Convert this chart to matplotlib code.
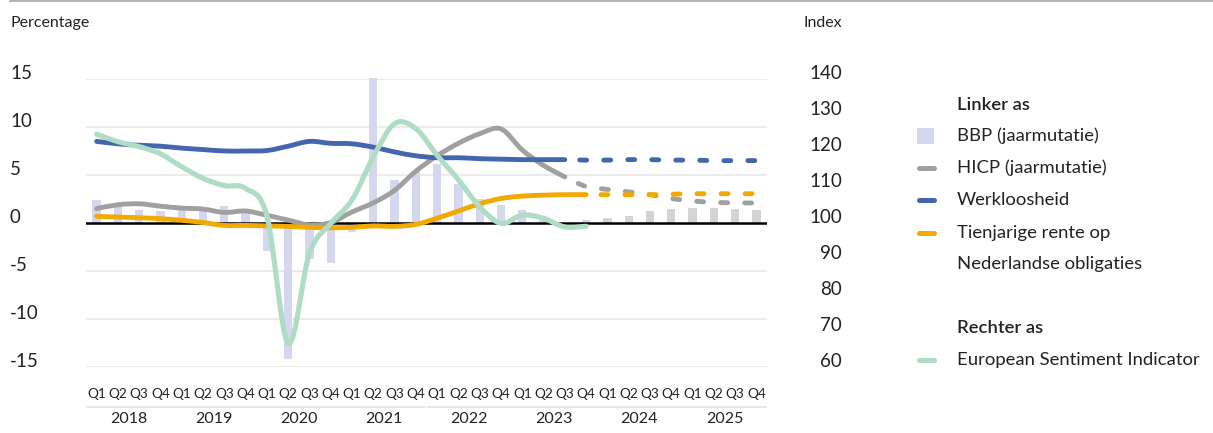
import matplotlib
matplotlib.use('Agg')
import matplotlib.pyplot as plt
from matplotlib.path import Path
from matplotlib.patches import PathPatch, Rectangle
from matplotlib.lines import Line2D
from matplotlib.transforms import blended_transform_factory
import numpy as np

# quarters 2018Q1 .. 2025Q4
quarters = ['Q1', 'Q2', 'Q3', 'Q4'] * 8
years = ['2018', '2019', '2020', '2021', '2022', '2023', '2024', '2025']

# BBP (jaarmutatie), bars; from 2024 grey (forecast)
bbp = [2.4, 2.0, 1.4, 1.2, 1.8, 1.6, 1.8, 1.3,
       -2.9, -14.2, -3.8, -4.2, -0.9, 15.1, 4.5, 5.3,
       6.1, 4.1, 2.5, 1.9, 1.35, 0.65, -0.2, 0.3,
       0.5, 0.7, 1.25, 1.45, 1.55, 1.55, 1.45, 1.35]
bbp_forecast_from = 24

# HICP (jaarmutatie)
hicp = [1.5, 1.9, 2.0, 1.75, 1.55, 1.45, 1.1, 1.25,
        0.8, 0.3, -0.2, 0.05, 1.15, 2.1, 3.4, 5.4,
        7.0, 8.3, 9.3, 9.8, 7.6, 6.0, 4.8]
hicp_fc = [4.8, 3.8, 3.5, 3.25, 2.95, 2.55, 2.3, 2.15, 2.1, 2.08]

# Werkloosheid
werkl = [8.5, 8.25, 8.1, 8.0, 7.8, 7.65, 7.5, 7.5,
         7.55, 8.0, 8.5, 8.3, 8.25, 7.9, 7.4, 7.0,
         6.8, 6.8, 6.7, 6.65, 6.6, 6.6, 6.6]
werkl_fc = [6.6, 6.55, 6.55, 6.6, 6.6, 6.55, 6.55, 6.5, 6.5, 6.5]

# Tienjarige rente op Nederlandse obligaties
rente = [0.7, 0.62, 0.55, 0.45, 0.28, 0.05, -0.25, -0.25,
         -0.3, -0.35, -0.45, -0.5, -0.45, -0.3, -0.35, -0.15,
         0.5, 1.25, 2.0, 2.55, 2.8, 2.9, 2.95, 2.95]
rente_fc = [2.95, 2.95, 2.95, 2.95, 3.0, 3.05, 3.05, 3.05, 3.05]

# European Sentiment Indicator (rechter as)
esi = [124.7, 122.6, 121.2, 119.2, 115.6, 112.4, 110.4, 109.6,
       102.0, 66.6, 91.6, 99.9, 106.4, 118.4, 127.6, 126.2,
       118.8, 112.0, 104.5, 99.9, 102.2, 101.3, 98.9, 99.1]

left_ticks = [15, 10, 5, 0, -5, -10, -15]
right_ticks = [140, 130, 120, 110, 100, 90, 80, 70, 60]

c_bar = '#d5d7ee'
c_bar_fc = '#d4d4d4'
c_hicp = '#a0a0a0'
c_werkl = '#4466af'
c_rente = '#f2a900'
c_esi = '#afdcc4'

plt.rcParams['font.family'] = ['Lato', 'DejaVu Sans']
plt.rcParams['lines.scale_dashes'] = False
txt = '#222222'


def smooth_path(xs, ys):
    # smoothed line through the points (Catmull-Rom style bezier, like Excel)
    pts = np.column_stack([xs, ys]).astype(float)
    n = len(pts)
    verts = [pts[0]]
    codes = [Path.MOVETO]
    for k in range(n - 1):
        p0 = pts[max(k - 1, 0)]
        p1 = pts[k]
        p2 = pts[k + 1]
        p3 = pts[min(k + 2, n - 1)]
        verts += [p1 + (p2 - p0) / 6, p2 - (p3 - p1) / 6, p2]
        codes += [Path.CURVE4] * 3
    return Path(verts, codes)


def add_line(axis, start, values, color, dashed=False, lw=3.5):
    xs = np.arange(start, start + len(values))
    ls = (6.6, (5.0, 12.3)) if dashed else '-'
    patch = PathPatch(smooth_path(xs, values), fill=False, edgecolor=color,
                      lw=lw, linestyle=ls, capstyle='round',
                      joinstyle='round', zorder=4, clip_on=False)
    axis.add_patch(patch)


W, H = 1213, 433
fig = plt.figure(figsize=(W / 100, H / 100), dpi=100)
ax = fig.add_axes([86 / W, 1 - 367 / H, (767 - 86) / W, 288 / H])
ax.set_xlim(-0.5, 31.5)
ax.set_ylim(-15, 15)
ax.axis('off')

for v in left_ticks:
    if v != 0:
        ax.axhline(v, color='#e8e8e8', lw=1.2, zorder=0)

x = np.arange(len(bbp))
bar_colors = [c_bar if i < bbp_forecast_from else c_bar_fc for i in x]
ax.bar(x, bbp, width=0.39, color=bar_colors, zorder=1, clip_on=False)
ax.axhline(0, color='black', lw=1.8, zorder=2)

add_line(ax, 0, hicp, c_hicp)
add_line(ax, len(hicp) - 1, hicp_fc, c_hicp, dashed=True)
add_line(ax, 0, rente, c_rente)
add_line(ax, len(rente) - 1, rente_fc, c_rente, dashed=True)
add_line(ax, 0, werkl, c_werkl)
add_line(ax, len(werkl) - 1, werkl_fc, c_werkl, dashed=True)

ax2 = ax.twinx()
ax2.set_ylim(60, 140)
ax2.axis('off')
add_line(ax2, 0, esi, c_esi, lw=3.7)

# tick labels (sitting on their gridline)
tl = blended_transform_factory(fig.transFigure, ax.transData)
for v in left_ticks:
    ax.text(10 / W, v, str(v), transform=tl, ha='left', va='baseline',
            fontsize=13.5, color=txt)
tr = blended_transform_factory(fig.transFigure, ax2.transData)
for v in right_ticks:
    ax2.text(842 / W, v, str(v), transform=tr, ha='right', va='baseline',
             fontsize=13.5, color=txt)

fig.text(10 / W, 1 - 23 / H, 'Percentage', ha='left', va='center',
         fontsize=11.5, color=txt)
fig.text(842 / W, 1 - 23 / H, 'Index', ha='right', va='center',
         fontsize=11.5, color=txt)

# category axis: quarters, separator lines, years
tx = blended_transform_factory(ax.transData, fig.transFigure)
for i, q in enumerate(quarters):
    ax.text(i, 1 - 394 / H, q, transform=tx, ha='center', va='center',
            fontsize=9.8, color=txt)
for k, yr in enumerate(years):
    ax.text(4 * k + 1.5, 1 - 419 / H, yr, transform=tx, ha='center',
            va='center', fontsize=11.5, color=txt)
    ax.add_line(Line2D([4 * k - 0.45, 4 * k + 3.45], [1 - 407 / H] * 2,
                       transform=tx, color='#e4e4e4', lw=1.2, clip_on=False))

# top rule
fig.add_artist(Line2D([10 / W, 1], [1 - 1 / H] * 2, color='#a6a6a6', lw=1.2))

# legend
lx = 957 / W
fs_leg = 13.3
fig.text(lx, 1 - 105 / H, 'Linker as', ha='left', va='center',
         fontsize=fs_leg, fontweight='semibold', color=txt)
fig.text(lx, 1 - 328 / H, 'Rechter as', ha='left', va='center',
         fontsize=fs_leg, fontweight='semibold', color=txt)
fig.add_artist(Rectangle((917 / W, 1 - 144 / H), 17 / W, 16 / H,
                         color=c_bar, lw=0))
fig.text(lx, 1 - 136 / H, 'BBP (jaarmutatie)', ha='left', va='center',
         fontsize=fs_leg, color=txt)
legend_lines = [('HICP (jaarmutatie)', c_hicp, 168),
                ('Werkloosheid', c_werkl, 200),
                ('Tienjarige rente op', c_rente, 233),
                ('European Sentiment Indicator', c_esi, 360)]
for label, col, yy in legend_lines:
    fig.add_artist(Line2D([919 / W, 934 / W], [1 - yy / H] * 2, color=col,
                          lw=3.6, solid_capstyle='round'))
    fig.text(lx, 1 - yy / H, label, ha='left', va='center', fontsize=fs_leg,
             color=txt)
fig.text(lx, 1 - 264 / H, 'Nederlandse obligaties', ha='left', va='center',
         fontsize=fs_leg, color=txt)

fig.savefig('out.png', dpi=100)
